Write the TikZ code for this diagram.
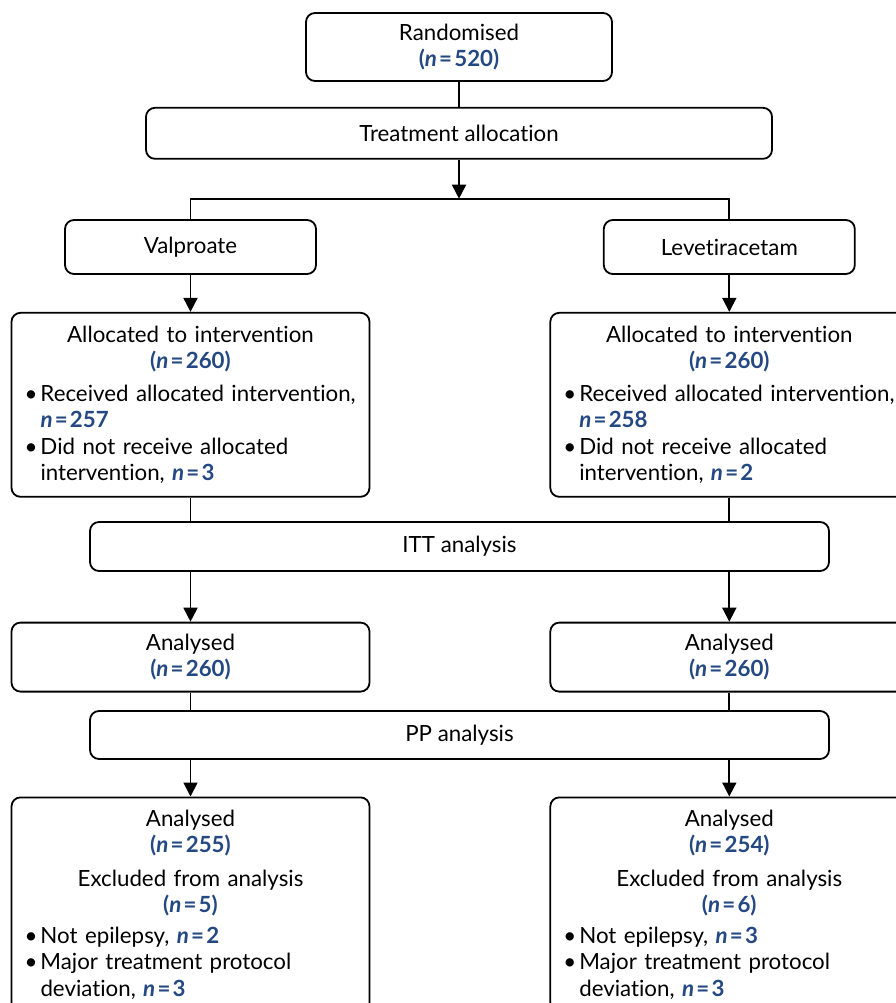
\documentclass[tikz,border=0pt]{standalone}
\usepackage{fontspec}
\setmainfont{Lato}[Ligatures=NoCommon]
\usetikzlibrary{positioning, arrows.meta}

\definecolor{nblue}{RGB}{36,72,130}
\newcommand{\nval}[1]{\textcolor{nblue}{\textbf{\textit{n}\hspace{0.1em}=\hspace{0.1em}#1}}}
\newcommand{\nbrk}[1]{\textcolor{nblue}{\textbf{(\textit{n}\hspace{0.1em}=\hspace{0.1em}#1)}}}
\newcommand{\bitem}[1]{\par\noindent\hangindent=16pt\hangafter=1\makebox[16pt][l]{\textbullet}#1\par}

\begin{document}
\begin{tikzpicture}[
            x=1pt, y=-1pt,
            >={Triangle[width=14pt,length=14pt]},
            base/.style = {rectangle, draw=black, line width=1.8pt, rounded corners=9pt, inner sep=0pt, font=\fontsize{22.3}{26.5}\selectfont},
            stage/.style = {base, align=center},
            arm/.style = {base, align=center, minimum width=251pt, minimum height=54pt},
            group/.style = {base, align=left, text width=332pt, inner xsep=13pt},
            link/.style = {line width=1.8pt},
            flow/.style = {link, ->}
        ]

            \useasboundingbox (0,0) rectangle (896,1003);

            % --- 1. Nodes ---
            \node [stage, minimum width=306pt, minimum height=68pt] (rand) at (459,47) {Randomised\\ \nbrk{520}};
            \node [stage, minimum width=626pt, minimum height=51pt, below=25pt of rand] (alloc) {Treatment allocation};
            \coordinate [below=39pt of alloc] (split);

            \node [arm] (valp) at (190.5,247) {Valproate};
            \node [arm, right=286pt of valp] (leve) {Levetiracetam};

            \node [group, minimum height=184pt, below=37pt of valp] (vint) {%
                {\centering Allocated to intervention\\ \nbrk{260}\par}\vspace{6pt}
                \bitem{\mbox{Received allocated intervention,}\newline \nval{257}}
                \bitem{Did not receive allocated\newline intervention, \nval{3}}};
            \node [group, minimum height=184pt, below=37pt of leve] (lint) {%
                {\centering Allocated to intervention\\ \nbrk{260}\par}\vspace{6pt}
                \bitem{\mbox{Received allocated intervention,}\newline \nval{258}}
                \bitem{Did not receive allocated\newline intervention, \nval{2}}};

            \node [stage, minimum width=739pt, minimum height=49pt] (itt) at (459.5,546.5) {ITT analysis};

            \node [stage, minimum width=358pt, minimum height=69pt, below=124pt of vint] (vitt) {Analysed\\ \nbrk{260}};
            \node [stage, minimum width=358pt, minimum height=69pt, below=124pt of lint] (litt) {Analysed\\ \nbrk{260}};

            \node [stage, minimum width=739pt, minimum height=48pt] (pp) at (459.5,735) {PP analysis};

            \node [group, minimum height=214pt, below=104pt of vitt] (vpp) {%
                {\centering Analysed\\ \nbrk{255}\par}\vspace{7pt}
                {\centering Excluded from analysis\\ \nbrk{5}\par}\vspace{4pt}
                \bitem{Not epilepsy, \nval{2}}
                \bitem{Major treatment protocol\newline deviation, \nval{3}}};
            \node [group, minimum height=214pt, below=104pt of litt] (lpp) {%
                {\centering Analysed\\ \nbrk{254}\par}\vspace{7pt}
                {\centering Excluded from analysis\\ \nbrk{6}\par}\vspace{4pt}
                \bitem{Not epilepsy, \nval{3}}
                \bitem{Major treatment protocol\newline deviation, \nval{3}}};

            % --- 2. Connections ---
            \draw [link] (rand) -- (alloc);
            \draw [flow] (alloc) -- (split);
            \draw [link] (valp) |- (split) -| (leve);

            \draw [flow] (valp) -- (vint);
            \draw [flow] (leve) -- (lint);

            % ITT analysis
            \draw [link] (vint) -- (vint.south |- itt.north);
            \draw [link] (lint) -- (lint.south |- itt.north);
            \draw [flow] (itt.south -| vitt.north) -- (vitt);
            \draw [flow] (itt.south -| litt.north) -- (litt);

            % PP analysis
            \draw [link] (vitt) -- (vitt.south |- pp.north);
            \draw [link] (litt) -- (litt.south |- pp.north);
            \draw [flow] (pp.south -| vpp.north) -- (vpp);
            \draw [flow] (pp.south -| lpp.north) -- (lpp);

        \end{tikzpicture}
\end{document}
